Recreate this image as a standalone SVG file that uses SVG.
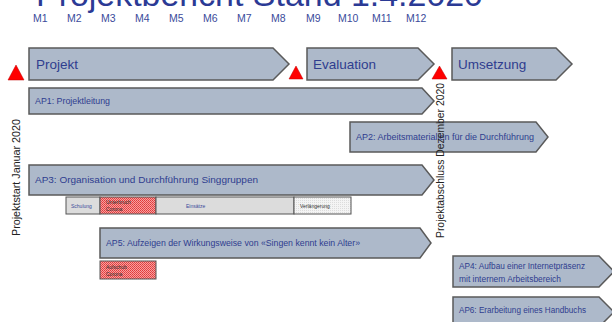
<svg xmlns="http://www.w3.org/2000/svg" width="612" height="322" viewBox="0 0 612 322">
<defs>
<pattern id="hatch" width="2" height="2" patternUnits="userSpaceOnUse">
<rect width="2" height="2" fill="#f7a0a0"/>
<rect width="1" height="1" fill="#e03a3a"/>
<rect x="1" y="1" width="1" height="1" fill="#e84848"/>
</pattern>
<pattern id="dots" width="2" height="2" patternUnits="userSpaceOnUse">
<rect width="2" height="2" fill="#f4f4f4"/>
<rect width="1" height="1" fill="#dcdcdc"/>
</pattern>
</defs>
<style>
text{font-family:"Liberation Sans","DejaVu Sans",sans-serif}
.bar{fill:#adb9ca;stroke:#5a5a5a;stroke-width:1.5}
.lbl{fill:#2f3d8f}
.ph{font-size:13.5px;fill:#2f3d8f}
.m{font-size:10.5px;fill:#3b4b9b}
.tri{fill:#ff0000;stroke:#c00000;stroke-width:0.5}
.seg{stroke:#555;stroke-width:1}
.tiny{font-size:5px}
.vt{font-size:11px;fill:#222}
</style>
<rect width="612" height="322" fill="#ffffff"/>
<text x="36" y="6" font-size="34" fill="#2b3a95" textLength="447" lengthAdjust="spacingAndGlyphs">Projektbericht Stand 1.4.2020</text>
<g id="months">
<text class="m" x="33" y="22">M1</text>
<text class="m" x="67" y="22">M2</text>
<text class="m" x="101" y="22">M3</text>
<text class="m" x="135" y="22">M4</text>
<text class="m" x="169" y="22">M5</text>
<text class="m" x="203" y="22">M6</text>
<text class="m" x="237" y="22">M7</text>
<text class="m" x="271" y="22">M8</text>
<text class="m" x="306" y="22">M9</text>
<text class="m" x="338" y="22">M10</text>
<text class="m" x="372" y="22">M11</text>
<text class="m" x="406" y="22">M12</text>
</g>
<g id="phase-projekt">
<polygon class="bar" points="29,48 273,48 289,64 273,80 29,80"/>
<text class="ph" x="36" y="69">Projekt</text>
</g>
<g id="phase-evaluation">
<polygon class="bar" points="307,48 418,48 434,64 418,80 307,80"/>
<text class="ph" x="313" y="69">Evaluation</text>
</g>
<g id="phase-umsetzung">
<polygon class="bar" points="452,48 556,48 572,64 556,80 452,80"/>
<text class="ph" x="458" y="69">Umsetzung</text>
</g>
<g id="milestones">
<polygon class="tri" points="8,80 16,65 24,80"/>
<polygon class="tri" points="289,79 296,66 303,79"/>
<polygon class="tri" points="432,79 439.5,66 447,79"/>
</g>
<g id="ap1">
<polygon class="bar" points="29,88 422,88 434,101 422,114 29,114"/>
<text class="lbl" x="35" y="104" font-size="9" textLength="75" lengthAdjust="spacingAndGlyphs">AP1: Projektleitung</text>
</g>
<g id="ap2">
<polygon class="bar" points="350,122 536,122 548,137 536,152 350,152"/>
<text class="lbl" x="356" y="140" font-size="9" textLength="178" lengthAdjust="spacingAndGlyphs">AP2: Arbeitsmaterialien für die Durchführung</text>
</g>
<g id="ap3">
<polygon class="bar" points="29,165 422,165 434,180 422,195 29,195"/>
<text class="lbl" x="35" y="183" font-size="9.5" textLength="223" lengthAdjust="spacingAndGlyphs">AP3: Organisation und Durchführung Singgruppen</text>
</g>
<g id="ap3-segments">
<rect class="seg" x="66" y="197" width="34" height="17" fill="#dcdcdc"/>
<text class="tiny" x="71" y="207.5" fill="#3b4b9b">Schulung</text>
<rect class="seg" x="100" y="197" width="56" height="17" fill="url(#hatch)"/>
<text class="tiny" x="106" y="204" fill="#333">Unterbruch</text>
<text class="tiny" x="106" y="211" fill="#333">Corona</text>
<rect class="seg" x="156" y="197" width="138" height="17" fill="#dcdcdc"/>
<text class="tiny" x="186" y="207.5" fill="#3b4b9b">Einsätze</text>
<rect class="seg" x="294" y="197" width="57" height="17" fill="url(#dots)"/>
<text class="tiny" x="300" y="207.5" fill="#333">Verlängerung</text>
</g>
<g id="ap5">
<polygon class="bar" points="100,228 420,228 431,243 420,258 100,258"/>
<text class="lbl" x="106" y="246" font-size="9" textLength="254" lengthAdjust="spacingAndGlyphs">AP5: Aufzeigen der Wirkungsweise von «Singen kennt kein Alter»</text>
</g>
<g id="ap5-segment">
<rect class="seg" x="100" y="261" width="56" height="18" fill="url(#hatch)"/>
<text class="tiny" x="106" y="268.5" fill="#333">Aufschub</text>
<text class="tiny" x="106" y="275.5" fill="#333">Corona</text>
</g>
<g id="ap4">
<polygon class="bar" points="453,256 599,256 614,271.5 599,287 453,287"/>
<text class="lbl" x="459" y="269" font-size="8.5" textLength="126" lengthAdjust="spacingAndGlyphs">AP4: Aufbau einer Internetpräsenz</text>
<text class="lbl" x="459" y="282" font-size="8.5" textLength="102" lengthAdjust="spacingAndGlyphs">mit internem Arbeitsbereich</text>
</g>
<g id="ap6">
<polygon class="bar" points="453,297 599,297 614,312 599,327 453,327"/>
<text class="lbl" x="459" y="313" font-size="8.5" textLength="127" lengthAdjust="spacingAndGlyphs">AP6: Erarbeitung eines Handbuchs</text>
</g>
<g id="connectors"></g>
<text class="vt" transform="translate(20,236) rotate(-90)" textLength="117" lengthAdjust="spacingAndGlyphs">Projektstart Januar 2020</text>
<text class="vt" transform="translate(444,238) rotate(-90)" textLength="155" lengthAdjust="spacingAndGlyphs">Projektabschluss Dezember 2020</text>
</svg>
